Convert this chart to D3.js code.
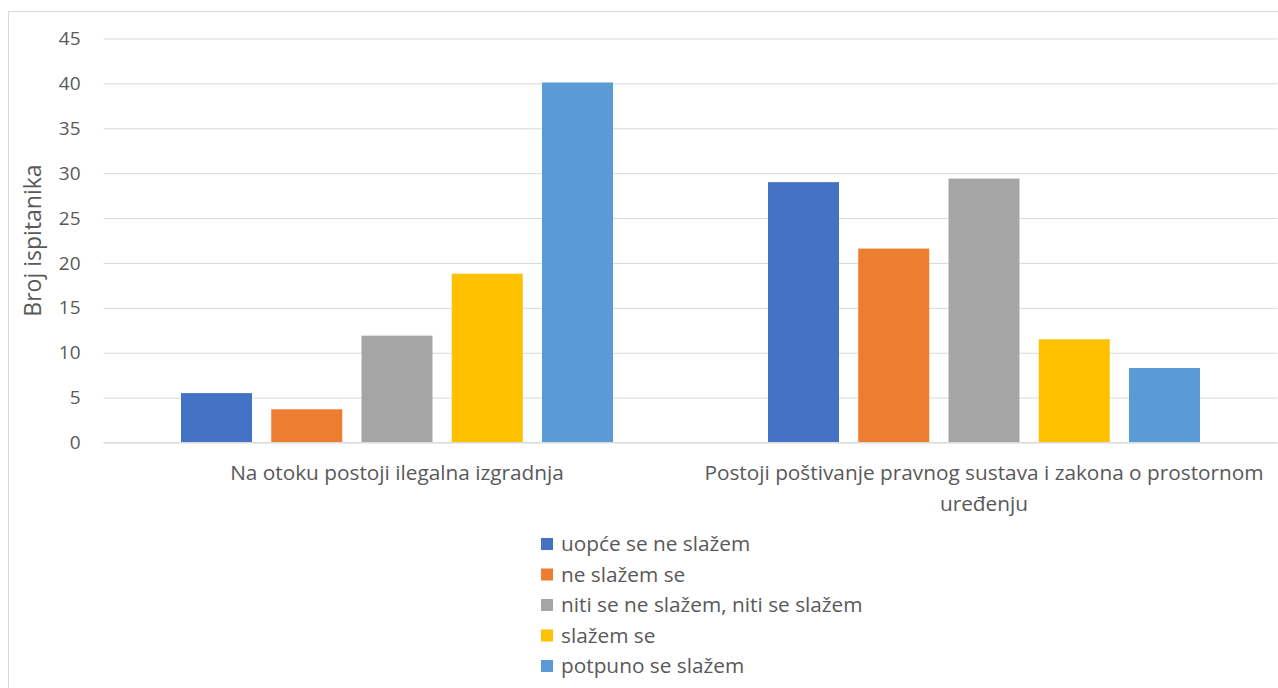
<!DOCTYPE html>
<html>
<head>
<meta charset="utf-8">
<script src="https://cdn.jsdelivr.net/npm/d3@7"></script>
<style>
  html, body { margin: 0; padding: 0; background: #fff; }
  svg { display: block; font-family: "Open Sans", "Noto Sans", sans-serif; }
</style>
</head>
<body>
<svg id="chart" width="1278" height="688"></svg>
<script>
const categories = [
  "Na otoku postoji ilegalna izgradnja",
  "Postoji poštivanje pravnog sustava i zakona o prostornom uređenju"
];
const categoryLines = [
  ["Na otoku postoji ilegalna izgradnja"],
  ["Postoji poštivanje pravnog sustava i zakona o prostornom", "uređenju"]
];
const seriesNames = [
  "uopće se ne slažem",
  "ne slažem se",
  "niti se ne slažem, niti se slažem",
  "slažem se",
  "potpuno se slažem"
];
const seriesColors = ["#4472C4", "#ED7D31", "#A5A5A5", "#FFC000", "#5B9BD5"];
const values = [
  [5.5, 3.7, 11.9, 18.8, 40.1],
  [29.0, 21.6, 29.4, 11.5, 8.3]
];
const yTicks = [0, 5, 10, 15, 20, 25, 30, 35, 40, 45];
const yTitle = "Broj ispitanika";

const svg = d3.select("#chart");
const textColor = "#595959";
const gridColor = "#d9d9d9";

// chart border
svg.append("rect").attr("x", 8.5).attr("y", 11.5).attr("width", 1300).attr("height", 700)
  .attr("fill", "none").attr("stroke", gridColor).attr("stroke-width", 1);

const plot = { left: 103.5, right: 1277.5, top: 38.5, bottom: 442.5 };

const x0 = d3.scaleBand().domain(categories).range([plot.left, plot.right]).padding(0);
const y = d3.scaleLinear().domain([0, 45]).range([plot.bottom, plot.top]);

const innerW = 71, innerStep = 90.25;
const x1 = d3.scaleBand().domain(seriesNames)
  .range([x0.bandwidth() / 2 - 2.5 * innerStep, x0.bandwidth() / 2 + 2.5 * innerStep])
  .paddingInner(1 - innerW / innerStep).paddingOuter((1 - innerW / innerStep) / 2);

// gridlines + tick labels
const yAxis = d3.axisLeft(y).tickValues(yTicks).tickSize(-(plot.right - plot.left)).tickPadding(23);
const gAxis = svg.append("g").attr("transform", `translate(${plot.left},0)`).call(yAxis);
gAxis.select(".domain").remove();
gAxis.selectAll(".tick line").attr("stroke", gridColor).attr("stroke-width", 1);
gAxis.selectAll(".tick text").attr("fill", textColor).attr("font-size", "19px")
  .attr("font-family", "'Open Sans', sans-serif");

// bars
const groups = svg.append("g").selectAll("g").data(categories).join("g")
  .attr("transform", d => `translate(${x0(d)},0)`);
groups.selectAll("rect").data((d, i) => values[i].map((v, j) => ({ s: seriesNames[j], v, j })))
  .join("rect")
  .attr("x", d => x1(d.s))
  .attr("width", x1.bandwidth())
  .attr("y", d => y(d.v))
  .attr("height", d => y(0) - y(d.v))
  .attr("fill", d => seriesColors[d.j]);

svg.append("line").attr("x1", plot.left).attr("x2", plot.right)
  .attr("y1", y(0)).attr("y2", y(0)).attr("stroke", gridColor).attr("stroke-width", 1);

// category labels
categories.forEach((c, i) => {
  const cx = x0(c) + x0.bandwidth() / 2;
  categoryLines[i].forEach((line, k) => {
    svg.append("text").attr("x", cx).attr("y", 473 + k * 31).attr("dy", "0.35em")
      .attr("text-anchor", "middle").attr("fill", textColor).attr("font-size", "20.8px")
      .text(line);
  });
});

// y title
svg.append("text").attr("transform", `translate(33,${(plot.top + plot.bottom) / 2}) rotate(-90)`)
  .attr("dy", "0.35em")
  .attr("text-anchor", "middle").attr("fill", textColor).attr("font-size", "23px").text(yTitle);

// legend
const legend = svg.append("g").attr("transform", "translate(541,0)");
seriesNames.forEach((s, i) => {
  const cy = 544 + i * 30.5;
  legend.append("rect").attr("x", 0).attr("y", cy - 6).attr("width", 12).attr("height", 12)
    .attr("fill", seriesColors[i]);
  legend.append("text").attr("x", 20).attr("y", cy).attr("dy", "0.35em")
    .attr("fill", textColor).attr("font-size", "20.8px").text(s);
});
</script>
</body>
</html>
